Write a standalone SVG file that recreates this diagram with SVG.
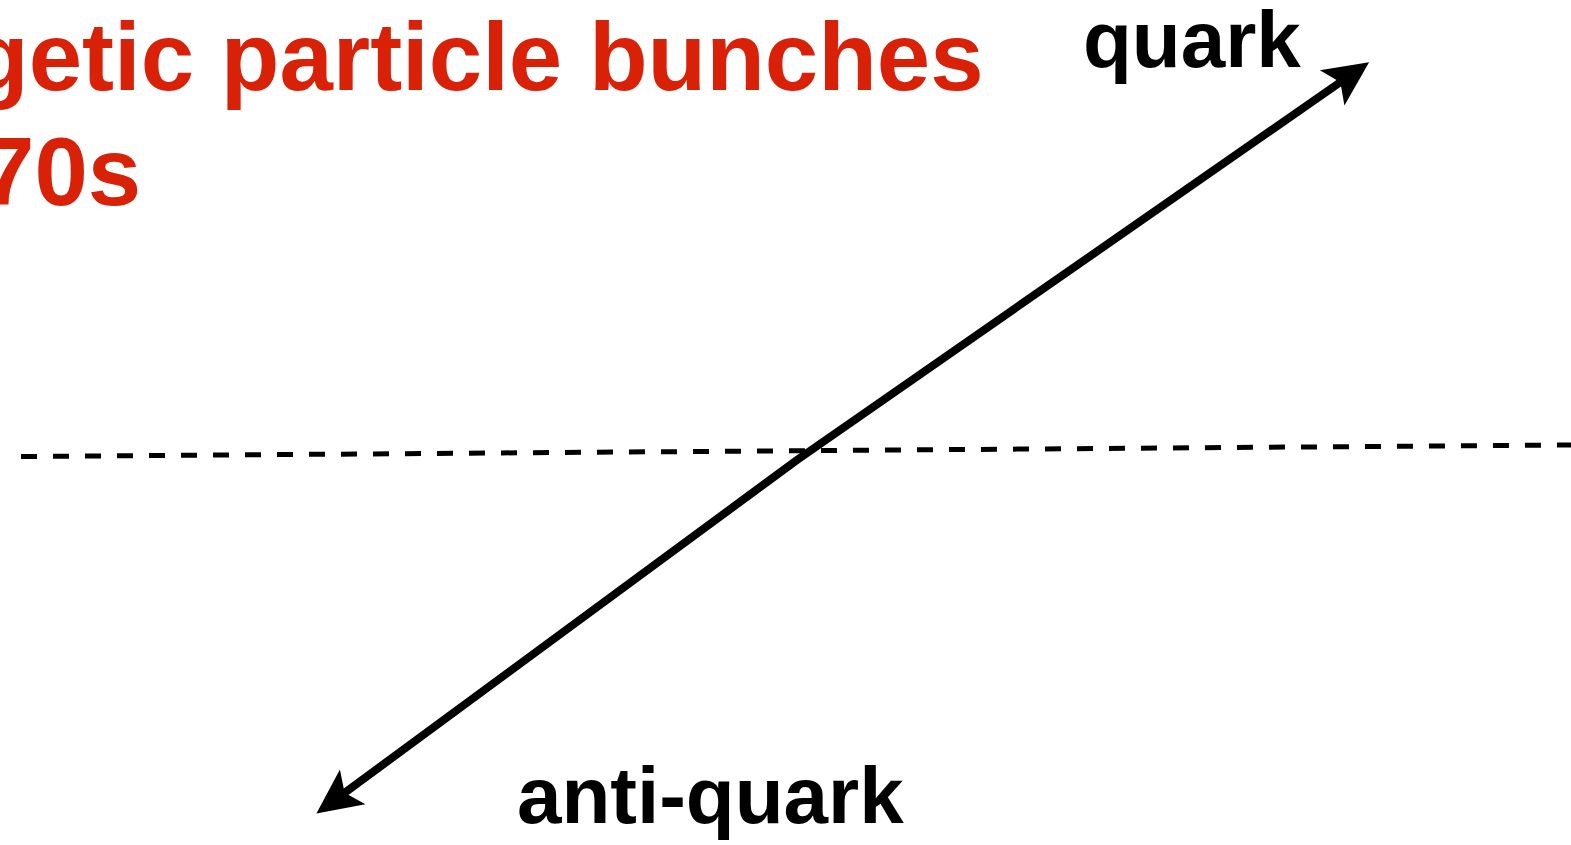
<svg xmlns="http://www.w3.org/2000/svg" width="1571" height="845" viewBox="0 0 1571 845">
<style>
.red{font-family:"Liberation Sans",Arial,sans-serif;font-weight:bold;font-size:96px;fill:#D92108}
.lbl{font-family:"Liberation Sans",Arial,sans-serif;font-weight:bold;font-size:80px;fill:#000}
</style>
<defs>
<marker id="ah" viewBox="-47 -24 50 48" refX="-33" refY="0" markerWidth="50" markerHeight="48" markerUnits="userSpaceOnUse" orient="auto-start-reverse">
<path d="M0,0 L-45,-21.5 L-35,0 L-45,21.5 Z" fill="#000"/>
</marker>
</defs>
<rect width="1571" height="845" fill="#fff"/>
<g id="title">
<text class="red" x="-30" y="90">getic particle bunches</text>
<text class="red" x="-19" y="205">70s</text>
</g>
<g id="connectors">
<line x1="21" y1="456.5" x2="1571" y2="445" stroke="#000" stroke-width="5" stroke-dasharray="16 16"/>
<path d="M343,794 L797,460 L1342,81" fill="none" stroke="#000" stroke-width="8" stroke-linejoin="round" marker-start="url(#ah)" marker-end="url(#ah)"/>
</g>
<g id="quark">
<text class="lbl" x="1083" y="67">quark</text>
</g>
<g id="antiquark">
<text class="lbl" x="517" y="823">anti-quark</text>
</g>
</svg>
